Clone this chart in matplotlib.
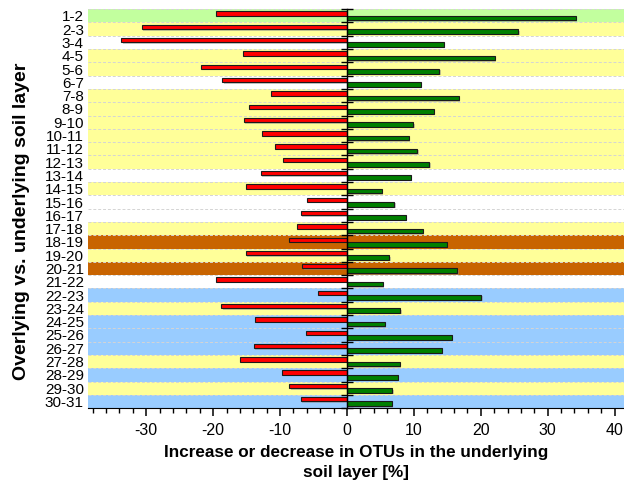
import numpy as np
import matplotlib
matplotlib.use("Agg")
import matplotlib.pyplot as plt
import matplotlib.patheffects as pe
from matplotlib.ticker import MultipleLocator

plt.rcParams['font.family'] = ['Liberation Sans', 'DejaVu Sans']
plt.rcParams['axes.unicode_minus'] = False

# --- data ---
layers = ['1-2', '2-3', '3-4', '4-5', '5-6', '6-7', '7-8', '8-9', '9-10', '10-11',
          '11-12', '12-13', '13-14', '14-15', '15-16', '16-17', '17-18', '18-19', '19-20', '20-21',
          '21-22', '22-23', '23-24', '24-25', '25-26', '26-27', '27-28', '28-29', '29-30', '30-31']
decrease = [-19.5, -30.7, -33.7, -15.6, -21.8, -18.6, -11.3, -14.6, -15.4, -12.7,
            -10.8, -9.6, -12.9, -15.1, -6.0, -6.9, -7.5, -8.6, -15.1, -6.7,
            -19.6, -4.4, -18.8, -13.7, -6.1, -13.9, -16.0, -9.7, -8.6, -6.9]
increase = [34.2, 25.6, 14.5, 22.1, 13.8, 11.0, 16.7, 13.0, 9.9, 9.2,
            10.5, 12.3, 9.5, 5.2, 7.1, 8.8, 11.3, 14.9, 6.3, 16.5,
            5.4, 20.1, 8.0, 5.7, 15.7, 14.2, 7.9, 7.6, 6.8, 6.7]
band_colors = ['#c2ff9e', '#ffff99', 'white', '#ffff99', '#ffff99', 'white', '#ffff99', '#ffff99',
               '#ffff99', '#ffff99', '#ffff99', '#ffff99', 'white', '#ffff99', 'white', 'white',
               '#ffff99', '#c86400', '#ffff99', '#c86400', 'white', '#99ccff', '#ffff99', '#99ccff',
               '#99ccff', '#99ccff', '#ffff99', '#99ccff', '#ffff99', '#99ccff']

n = len(layers)
y = np.arange(n)

fig = plt.figure(figsize=(6.24, 4.83), dpi=100)
ax = fig.add_axes([0.141, 0.155, 0.859, 0.826])

# coloured row bands and dashed separators
for i, c in enumerate(band_colors):
    ax.axhspan(i - 0.5, i + 0.5, color=c, lw=0, zorder=0)
for b in np.arange(-0.5, n, 1):
    ax.axhline(b, color='#d4d4d4', lw=0.7, ls=(0, (3, 2)), zorder=1)

shadow = [pe.SimplePatchShadow(offset=(1.0, -1.0), shadow_rgbFace='#909090', alpha=0.5), pe.Normal()]
red = ax.barh(y - 0.33, decrease, height=0.33, align='edge', color='#ff0000',
              edgecolor='#1a1a1a', lw=0.8, zorder=3)
green = ax.barh(y, increase, height=0.35, align='edge', color='#008000',
                edgecolor='#1a1a1a', lw=0.8, zorder=3)
for p in list(red) + list(green):
    p.set_path_effects(shadow)

ax.set_xlim(-38.7, 41.4)
ax.set_ylim(n - 0.5, -0.5)

# zero line with small ticks at row borders
ax.spines['left'].set_position(('data', 0))
ax.spines['left'].set_linewidth(1.0)
ax.spines['left'].set_zorder(4)
ax.set_yticks(np.arange(-0.5, n, 1))
ax.set_yticklabels([])
ax.tick_params(axis='y', direction='inout', length=9, width=1.0)
ax.spines['right'].set_visible(False)
ax.spines['top'].set_visible(False)
ax.spines['bottom'].set_linewidth(0.8)

ax.xaxis.set_major_locator(MultipleLocator(10))
ax.xaxis.set_minor_locator(MultipleLocator(2))
ax.tick_params(axis='x', which='major', length=6, width=1.1, labelsize=11.5, pad=5)
ax.tick_params(axis='x', which='minor', length=3.5, width=1.0)

# layer labels at the left edge
sec = ax.secondary_yaxis(0.0)
sec.set_yticks(y, labels=layers)
sec.tick_params(length=0, labelsize=11, pad=3)
sec.spines['left'].set_visible(False)

ax.set_xlabel('Increase or decrease in OTUs in the underlying\nsoil layer [%]',
              fontsize=12.3, fontweight='bold', labelpad=5, linespacing=1.35)
fig.text(0.034, 0.542, 'Overlying vs. underlying soil layer', rotation=90,
         fontsize=14, fontweight='bold', ha='center', va='center')

fig.savefig('out.png', dpi=100)
